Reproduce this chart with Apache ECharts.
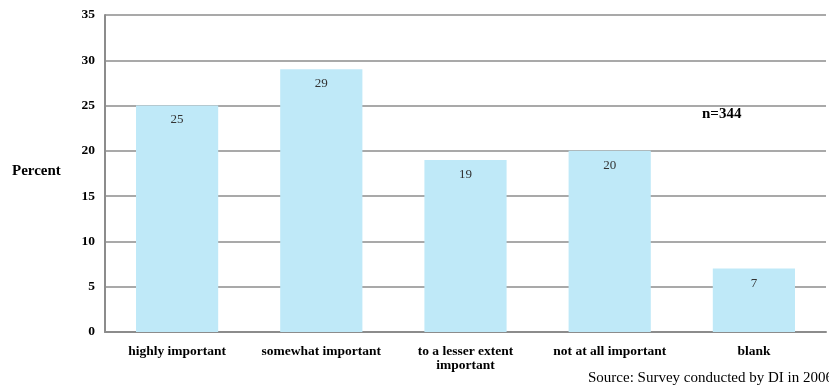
<!DOCTYPE html>
<html><head><meta charset="utf-8">
<script src="https://cdn.jsdelivr.net/npm/echarts@6/dist/echarts.min.js"></script>
<style>html,body{margin:0;padding:0;background:#fff}#c{width:829px;height:387px}</style>
</head><body><div id="c"></div>
<script>
const categories = ["highly important", "somewhat important", "to a lesser extent\nimportant", "not at all important", "blank"];
const values = [25, 29, 19, 20, 7];
const yTicks = [0, 5, 10, 15, 20, 25, 30, 35];
const yTitle = "Percent";
const note = "n=344";
const source = "Source: Survey conducted by DI in 2006";

const chart = echarts.init(document.getElementById('c'), null, {renderer: 'canvas'});
const serif = "'Liberation Serif', 'DejaVu Serif', serif";
chart.setOption({
  animation: false,
  grid: {left: 105, right: 3, top: 15, bottom: 55},
  xAxis: {
    type: 'category', data: categories,
    axisLine: {lineStyle: {color: '#8c8c8c', width: 2}},
    axisTick: {show: false},
    axisLabel: {color: '#000', fontFamily: serif, fontWeight: 'bold', fontSize: 13.5, margin: 13, lineHeight: 14, interval: 0}
  },
  yAxis: {
    type: 'value', min: yTicks[0], max: yTicks[yTicks.length - 1], interval: 5,
    axisLine: {show: true, lineStyle: {color: '#8c8c8c', width: 2}},
    axisTick: {show: false},
    splitLine: {lineStyle: {color: '#8c8c8c', width: 1.5}},
    axisLabel: {color: '#000', fontFamily: serif, fontWeight: 'bold', fontSize: 13.5, margin: 10}
  },
  series: [{
    type: 'bar', data: values, barWidth: '57%',
    itemStyle: {color: '#bfe9f8'},
    label: {show: true, position: 'insideTop', distance: 8, color: '#333', fontFamily: serif, fontSize: 13}
  }],
  graphic: [
    {type: 'text', left: 12, top: 164, style: {text: yTitle, font: "bold 15px " + serif, fill: '#000'}},
    {type: 'text', left: 702, top: 107, style: {text: note, font: "bold 15px " + serif, fill: '#000'}},
    {type: 'text', left: 588, top: 371, style: {text: source, font: "15px " + serif, fill: '#000'}}
  ]
});
</script></body></html>
